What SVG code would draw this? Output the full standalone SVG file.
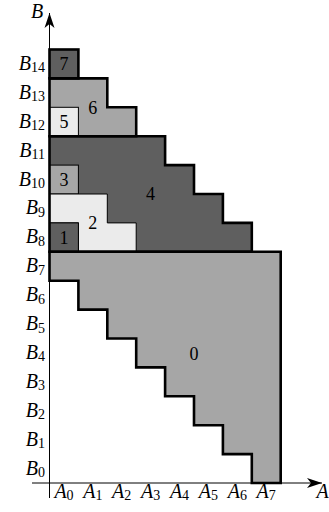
<svg xmlns="http://www.w3.org/2000/svg" width="329" height="512" viewBox="0 0 329 512">
<style>
.bg{fill:#ffffff}
.dark{fill:#5f5f5f}
.mid{fill:#a6a6a6}
.light{fill:#ebebeb}
.thin{stroke:#000;stroke-width:1;stroke-linejoin:miter}
.thick{fill:none;stroke:#000;stroke-width:2.6;stroke-linejoin:miter}
.axis{stroke:#000;stroke-width:1;fill:none}
.lbl{font-family:"Liberation Serif","Times New Roman",serif;font-size:20px;fill:#000}
.it{font-style:italic}
.sub{font-size:14px}
.num{font-family:"Liberation Serif","Times New Roman",serif;font-size:18px;fill:#000;text-anchor:middle}
</style>
<defs>
<marker id="arr" markerUnits="userSpaceOnUse" markerWidth="18" markerHeight="12" viewBox="-16 -6 17 12" refX="0" refY="0" orient="auto">
<path d="M0,0 L-15,-5 L-11,0 L-15,5 Z" fill="#000"/>
</marker>
</defs>
<rect class="bg" x="0" y="0" width="329" height="512"/>
<g id="connectors">
<line class="axis" x1="49.5" y1="498" x2="49.5" y2="13" marker-end="url(#arr)"/>
<line class="axis" x1="32" y1="483" x2="322" y2="483" marker-end="url(#arr)"/>
</g>
<g id="block-0"><path class="mid" d="M49.5,251.8 H280.7 V483 H251.8 V454.1 H222.9 V425.2 H194 V396.3 H165.1 V367.4 H136.2 V338.5 H107.3 V309.6 H78.4 V280.7 H49.5 Z"/><text class="num" x="194" y="359.5">0</text></g>
<g id="block-4"><path class="dark" d="M49.5,136.2 H165.1 V165.1 H194 V194 H222.9 V222.9 H251.8 V251.8 H49.5 Z"/><text class="num" x="150.6" y="200.3">4</text></g>
<g id="block-3"><rect class="mid thin" x="49.5" y="165.1" width="28.9" height="28.9"/><text class="num" x="64" y="185.8">3</text></g>
<g id="block-2"><path class="light thin" d="M49.5,194 H107.3 V222.9 H136.2 V251.8 H78.4 V222.9 H49.5 Z"/><text class="num" x="92.8" y="229.2">2</text></g>
<g id="block-1"><rect class="dark thin" x="49.5" y="222.9" width="28.9" height="28.9"/><text class="num" x="64" y="243.6">1</text></g>
<g id="block-6"><path class="mid" d="M49.5,78.4 H107.3 V107.3 H136.2 V136.2 H49.5 Z"/><text class="num" x="92.8" y="113.6">6</text></g>
<g id="block-5"><rect class="light thin" x="49.5" y="107.3" width="28.9" height="28.9"/><text class="num" x="64" y="128">5</text></g>
<g id="block-7"><rect class="dark" x="49.5" y="49.5" width="28.9" height="28.9"/><text class="num" x="64" y="70.2">7</text></g>
<g id="outlines">
<path class="thick" d="M49.5,251.8 H280.7 V483 H251.8 V454.1 H222.9 V425.2 H194 V396.3 H165.1 V367.4 H136.2 V338.5 H107.3 V309.6 H78.4 V280.7 H49.5 Z"/>
<path class="thick" d="M49.5,136.2 H165.1 V165.1 H194 V194 H222.9 V222.9 H251.8 V251.8 H49.5 Z"/>
<path class="thick" d="M49.5,78.4 H107.3 V107.3 H136.2 V136.2 H49.5 Z"/>
<rect class="thick" x="49.5" y="49.5" width="28.9" height="28.9"/>
</g>
<g id="axis-labels">
<text class="lbl it" x="31" y="17.5">B</text>
<text class="lbl it" x="316.5" y="497.5">A</text>
</g>
<g id="row-labels" class="lbl" text-anchor="end">
<text x="45" y="69.9"><tspan class="it">B</tspan><tspan class="sub" dy="2.5">14</tspan></text>
<text x="45" y="98.8"><tspan class="it">B</tspan><tspan class="sub" dy="2.5">13</tspan></text>
<text x="45" y="127.7"><tspan class="it">B</tspan><tspan class="sub" dy="2.5">12</tspan></text>
<text x="45" y="156.6"><tspan class="it">B</tspan><tspan class="sub" dy="2.5">11</tspan></text>
<text x="45" y="185.5"><tspan class="it">B</tspan><tspan class="sub" dy="2.5">10</tspan></text>
<text x="45" y="214.4"><tspan class="it">B</tspan><tspan class="sub" dy="2.5">9</tspan></text>
<text x="45" y="243.3"><tspan class="it">B</tspan><tspan class="sub" dy="2.5">8</tspan></text>
<text x="45" y="272.2"><tspan class="it">B</tspan><tspan class="sub" dy="2.5">7</tspan></text>
<text x="45" y="301.1"><tspan class="it">B</tspan><tspan class="sub" dy="2.5">6</tspan></text>
<text x="45" y="330"><tspan class="it">B</tspan><tspan class="sub" dy="2.5">5</tspan></text>
<text x="45" y="358.9"><tspan class="it">B</tspan><tspan class="sub" dy="2.5">4</tspan></text>
<text x="45" y="387.8"><tspan class="it">B</tspan><tspan class="sub" dy="2.5">3</tspan></text>
<text x="45" y="416.7"><tspan class="it">B</tspan><tspan class="sub" dy="2.5">2</tspan></text>
<text x="45" y="445.6"><tspan class="it">B</tspan><tspan class="sub" dy="2.5">1</tspan></text>
<text x="45" y="474.5"><tspan class="it">B</tspan><tspan class="sub" dy="2.5">0</tspan></text>
</g>
<g id="col-labels" class="lbl" text-anchor="middle">
<text x="64" y="497.5"><tspan class="it">A</tspan><tspan class="sub" dy="2.5">0</tspan></text>
<text x="92.8" y="497.5"><tspan class="it">A</tspan><tspan class="sub" dy="2.5">1</tspan></text>
<text x="121.7" y="497.5"><tspan class="it">A</tspan><tspan class="sub" dy="2.5">2</tspan></text>
<text x="150.6" y="497.5"><tspan class="it">A</tspan><tspan class="sub" dy="2.5">3</tspan></text>
<text x="179.5" y="497.5"><tspan class="it">A</tspan><tspan class="sub" dy="2.5">4</tspan></text>
<text x="208.4" y="497.5"><tspan class="it">A</tspan><tspan class="sub" dy="2.5">5</tspan></text>
<text x="237.3" y="497.5"><tspan class="it">A</tspan><tspan class="sub" dy="2.5">6</tspan></text>
<text x="266.2" y="497.5"><tspan class="it">A</tspan><tspan class="sub" dy="2.5">7</tspan></text>
</g>
</svg>
